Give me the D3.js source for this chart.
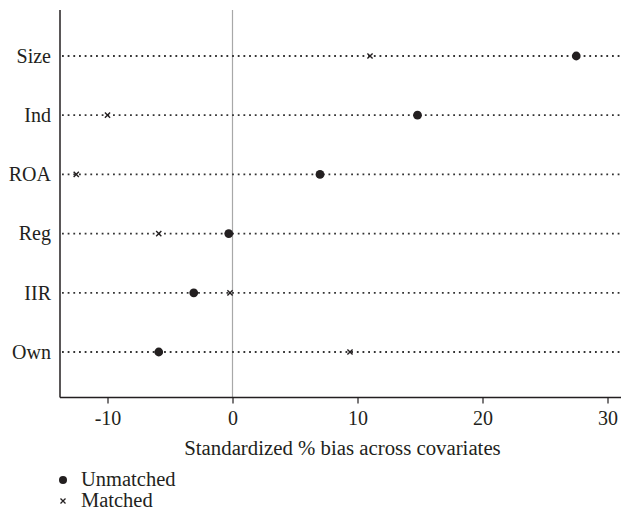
<!DOCTYPE html>
<html>
<head>
<meta charset="utf-8">
<script src="https://cdn.jsdelivr.net/npm/d3@7"></script>
<style>
  body { margin: 0; }
  #chart, #chart text { font-family: "Liberation Serif", Tinos, "Times New Roman", "DejaVu Serif", serif !important; }
</style>
</head>
<body>
<svg id="chart" width="621" height="512"></svg>
<script>
// Covariates, top to bottom
const covariates = ["Size", "Ind", "ROA", "Reg", "IIR", "Own"];
// Standardized % bias before matching
const unmatched = [27.5, 14.8, 7.0, -0.3, -3.1, -5.9];
// Standardized % bias after matching
const matched = [11.0, -10.0, -12.5, -5.9, -0.2, 9.4];
const xTicks = [-10, 0, 10, 20, 30];
const xTitle = "Standardized % bias across covariates";
const legendLabels = ["Unmatched", "Matched"];

const svg = d3.select("#chart");
const ink = "#231f20";
const textFont = "Liberation Serif, Tinos, Times New Roman, DejaVu Serif, serif";

const plotLeft = 60, plotRight = 621, plotTop = 10, plotBottom = 397.5;

const x = d3.scaleLinear().domain([-13.8, 31.08]).range([plotLeft, plotRight]);
const y = d3.scalePoint().domain(covariates).range([56, 352]);

// zero reference line
svg.append("line")
  .attr("x1", x(0)).attr("x2", x(0))
  .attr("y1", plotTop).attr("y2", plotBottom)
  .attr("stroke", "#a8a8a8").attr("stroke-width", 1.2);

// dotted guide per covariate
svg.append("g").selectAll("line")
  .data(covariates)
  .join("line")
  .attr("x1", plotLeft + 2).attr("x2", plotRight)
  .attr("y1", d => y(d)).attr("y2", d => y(d))
  .attr("stroke", "#333").attr("stroke-width", 1.8)
  .attr("stroke-dasharray", "1.8,3.87");

// left axis
svg.append("line")
  .attr("x1", plotLeft).attr("x2", plotLeft)
  .attr("y1", plotTop).attr("y2", plotBottom)
  .attr("stroke", ink).attr("stroke-width", 1.5);

// category labels
svg.selectAll("text.cat")
  .data(covariates)
  .join("text")
  .attr("class", "cat")
  .attr("x", 51).attr("y", d => y(d))
  .attr("dy", "0.34em")
  .attr("text-anchor", "end")
  .attr("font-size", 20)
  .attr("font-family", textFont)
  .attr("fill", ink)
  .text(d => d);

// bottom axis
const xAxis = d3.axisBottom(x)
  .tickValues(xTicks)
  .tickFormat(d => d < 0 ? "-" + Math.abs(d) : String(d))
  .tickSizeOuter(0)
  .tickSizeInner(6)
  .tickPadding(7);
const gx = svg.append("g")
  .attr("transform", `translate(0,${plotBottom})`)
  .call(xAxis)
  .attr("font-family", textFont)
  .attr("font-size", 20);
gx.select(".domain").attr("stroke", ink).attr("stroke-width", 1.5)
  .attr("d", `M${plotLeft},0H${plotRight}`);
gx.selectAll(".tick line").attr("stroke", ink).attr("stroke-width", 1.2);
gx.selectAll(".tick text")
  .attr("font-family", textFont)
  .attr("fill", ink);

svg.append("text")
  .attr("x", (plotLeft + plotRight) / 2 + 2).attr("y", 455)
  .attr("text-anchor", "middle")
  .attr("font-size", 20.8)
  .attr("font-family", textFont)
  .attr("fill", ink)
  .text(xTitle);

// markers
const crossPath = s => `M${-s},${-s}L${s},${s}M${-s},${s}L${s},${-s}`;

svg.append("g").selectAll("circle")
  .data(covariates)
  .join("circle")
  .attr("cx", (d, i) => x(unmatched[i]))
  .attr("cy", d => y(d))
  .attr("r", 4.4)
  .attr("fill", ink);

svg.append("g").selectAll("path")
  .data(covariates)
  .join("path")
  .attr("transform", (d, i) => `translate(${x(matched[i])},${y(d)})`)
  .attr("d", crossPath(2.6))
  .attr("stroke", ink).attr("stroke-width", 1.4)
  .attr("fill", "none");

// legend
svg.append("circle").attr("cx", 63).attr("cy", 480).attr("r", 4).attr("fill", ink);
svg.append("path").attr("transform", "translate(63,501)")
  .attr("d", crossPath(2.5)).attr("stroke", ink).attr("stroke-width", 1.3);
svg.selectAll("text.leg")
  .data(legendLabels)
  .join("text")
  .attr("class", "leg")
  .attr("x", 81)
  .attr("y", (d, i) => 486 + i * 21)
  .attr("font-size", 20.5)
  .attr("font-family", textFont)
  .attr("fill", ink)
  .text(d => d);
</script>
</body>
</html>
